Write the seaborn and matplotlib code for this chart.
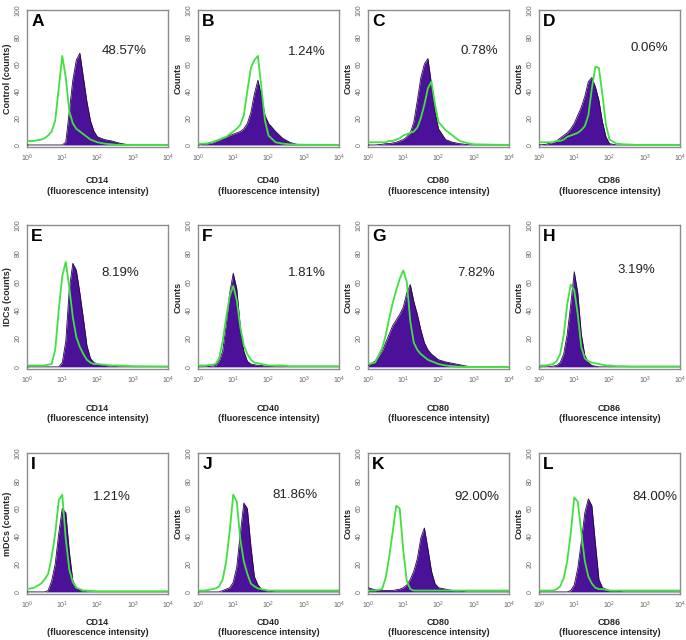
import numpy as np
import pandas as pd
import matplotlib
matplotlib.use('Agg')
import matplotlib.pyplot as plt
import seaborn as sns


# ===================================
# Data
# ===================================
# log10 of fluorescence intensity where the histograms were sampled
LOG_X = [0.0, 0.2, 0.4, 0.5, 0.6, 0.7, 0.8, 0.9, 1.0, 1.1, 1.2, 1.3, 1.4,
         1.5, 1.6, 1.7, 1.8, 1.9, 2.0, 2.2, 2.4, 2.6, 2.8, 3.0, 4.0]

LETTERS  = ['A', 'B', 'C', 'D', 'E', 'F', 'G', 'H', 'I', 'J', 'K', 'L']
MARKERS  = ['CD14', 'CD40', 'CD80', 'CD86'] * 3
PERCENTS = ['48.57%', '1.24%', '0.78%', '0.06%',
            '8.19%', '1.81%', '7.82%', '3.19%',
            '1.21%', '81.86%', '92.00%', '84.00%']
ROW_LABELS = ['Control (counts)', 'IDCs (counts)', 'mDCs (counts)']

# green = isotype / unstained line, purple = stained filled histogram
GREEN_A  = [3, 3, 4, 5, 7, 10, 18, 42, 66, 50, 25, 16, 12, 10, 8, 6, 4, 3, 2, 1, 0.5, 0, 0, 0, 0]
PURPLE_A = [0, 0, 0, 0, 0, 0, 0, 0, 0, 2, 25, 48, 63, 68, 50, 32, 18, 10, 6, 4, 3, 1.5, 0.5, 0, 0]
GREEN_B  = [1, 1, 2, 3, 4, 5, 6, 8, 10, 12, 15, 22, 40, 57, 63, 66, 42, 18, 7, 2, 1, 0.5, 0.3, 0.2, 0]
PURPLE_B = [0, 0.5, 1.5, 2.5, 3.5, 5, 6, 7, 8, 9, 10, 12, 16, 24, 38, 48, 36, 22, 16, 10, 5, 2, 0.5, 0, 0]
GREEN_C  = [2, 2, 2, 2, 3, 3, 4, 5, 7, 8, 9, 10, 13, 20, 30, 42, 47, 30, 17, 11, 7, 3, 1.5, 0.5, 0]
PURPLE_C = [0, 0, 0.5, 1, 1, 1.5, 2, 3, 4, 6, 9, 17, 33, 50, 60, 64, 45, 25, 12, 4, 2, 1, 0.3, 0, 0]
GREEN_D  = [2, 2, 2, 3, 3, 4, 6, 7, 8, 9, 11, 14, 22, 42, 58, 57, 37, 15, 4, 1, 0.5, 0.3, 0, 0, 0]
PURPLE_D = [0, 0.5, 2, 3, 5, 7, 9, 12, 16, 22, 28, 36, 47, 50, 43, 33, 17, 6, 1, 0, 0, 0, 0, 0, 0]

GREEN_E  = [1, 1, 1, 1, 1.5, 2, 12, 40, 64, 74, 56, 35, 21, 14, 9, 5, 3, 2, 2, 1.5, 1, 1, 0.8, 0.5, 0.3]
PURPLE_E = [0, 0, 0, 0, 0, 0, 0, 0, 3, 18, 55, 73, 68, 52, 34, 15, 6, 3, 2, 1, 0.5, 0, 0, 0, 0]
GREEN_F  = [1, 1, 1.5, 2, 6, 18, 35, 50, 57, 47, 28, 15, 9, 5, 3, 2.5, 2, 1.5, 1, 1, 1, 0.5, 0.5, 0.5, 0.5]
PURPLE_F = [0, 0, 0.5, 1, 4, 11, 30, 52, 66, 55, 28, 11, 4, 2, 1.5, 1, 1, 0.5, 0.3, 0, 0, 0, 0, 0, 0]
GREEN_G  = [2, 3, 13, 22, 34, 45, 54, 62, 68, 60, 32, 17, 12, 9, 7, 5, 4, 3, 2, 1, 0.5, 0, 0, 0, 0]
PURPLE_G = [1, 4, 11, 17, 23, 29, 33, 37, 42, 52, 58, 46, 37, 26, 17, 12, 9, 7, 5, 3.5, 2.5, 1.5, 0.5, 0, 0]
GREEN_H  = [1, 1, 2, 4, 9, 22, 44, 58, 54, 37, 14, 6, 4, 3, 2.5, 2, 1.5, 1, 1, 0.5, 0.5, 0.3, 0.3, 0.3, 0.3]
PURPLE_H = [0, 0, 0.5, 1, 3, 9, 23, 44, 67, 52, 23, 8, 3, 1, 0.5, 0, 0, 0, 0, 0, 0, 0, 0, 0, 0]

GREEN_I  = [2, 3, 6, 9, 13, 25, 42, 66, 70, 38, 16, 7, 3, 2, 1, 1, 0.8, 0.6, 0.5, 0.5, 0.5, 0.5, 0.5, 0.5, 0.5]
PURPLE_I = [0, 0, 0, 0, 1, 8, 20, 42, 60, 57, 29, 8, 3, 1, 0.5, 0, 0, 0, 0, 0, 0, 0, 0, 0, 0]
GREEN_J  = [1, 1, 2, 2.5, 4, 9, 22, 44, 70, 65, 38, 22, 13, 6, 4, 2.5, 2, 1.5, 1, 1, 1, 1, 1, 1, 1]
PURPLE_J = [0, 0, 0, 0, 0, 1, 2, 3, 7, 18, 42, 64, 60, 33, 11, 5, 2, 1, 0.5, 0, 0, 0, 0, 0, 0]
GREEN_K  = [1, 1, 2, 10, 25, 43, 62, 60, 30, 8, 2, 1, 1, 1, 1, 1, 1, 1, 1, 1, 1, 1, 1, 1, 1]
PURPLE_K = [3, 1.5, 1, 1, 1, 1, 1.5, 2, 3, 5, 9, 15, 24, 39, 46, 31, 15, 6, 3, 2, 1, 0.5, 0, 0, 0]
GREEN_L  = [1, 1, 1, 2, 4, 10, 22, 42, 68, 65, 43, 22, 11, 6, 3, 2, 2, 1.5, 1, 1, 1, 1, 1, 1, 1]
PURPLE_L = [0, 0, 0, 0, 0, 0, 0, 1, 5, 17, 36, 57, 67, 62, 35, 9, 3, 2, 1, 0.5, 0, 0, 0, 0, 0]

GREENS  = [GREEN_A, GREEN_B, GREEN_C, GREEN_D, GREEN_E, GREEN_F,
           GREEN_G, GREEN_H, GREEN_I, GREEN_J, GREEN_K, GREEN_L]
PURPLES = [PURPLE_A, PURPLE_B, PURPLE_C, PURPLE_D, PURPLE_E, PURPLE_F,
           PURPLE_G, PURPLE_H, PURPLE_I, PURPLE_J, PURPLE_K, PURPLE_L]


# ===================================
# Layout (pixels of the 686x640 canvas)
# ===================================
FIG_W, FIG_H = 686, 640
COL_LEFT   = [27, 198, 368, 539]
AX_W       = 141
ROW_TOP    = [10, 225, 453]
ROW_BOTTOM = [147, 369, 594]
XLABEL_PAD = [21, 25, 17]          # points below axes

# percentage label position (axes fraction)
PCT_POS = [(0.69, 0.70), (0.77, 0.69), (0.79, 0.70), (0.78, 0.72),
           (0.66, 0.67), (0.77, 0.67), (0.77, 0.67), (0.69, 0.69),
           (0.60, 0.69), (0.69, 0.70), (0.77, 0.69), (0.82, 0.69)]

PURPLE = '#4b1199'
EDGE   = '#24083f'
GREEN  = '#3fe03f'
GRAY   = '#8c8c8c'

sns.set_theme(style='white')
plt.rcParams['font.family'] = ['Liberation Sans', 'DejaVu Sans']
plt.rcParams['mathtext.fontset'] = 'custom'
plt.rcParams['mathtext.rm'] = 'Liberation Sans'

fig = plt.figure(figsize=(FIG_W / 100, FIG_H / 100), dpi=100)
x_vals = 10 ** np.array(LOG_X)

for i in range(12):
    row, col = divmod(i, 4)
    left   = COL_LEFT[col] / FIG_W
    bottom = 1 - ROW_BOTTOM[row] / FIG_H
    height = (ROW_BOTTOM[row] - ROW_TOP[row]) / FIG_H
    ax = fig.add_axes([left, bottom, AX_W / FIG_W, height])

    df = pd.DataFrame({'x': x_vals, 'green': GREENS[i], 'purple': PURPLES[i]})

    ax.fill_between(df['x'], df['purple'], color=PURPLE, linewidth=0, zorder=2)
    sns.lineplot(data=df, x='x', y='purple', ax=ax, color=EDGE,
                 linewidth=0.6, zorder=3)
    sns.lineplot(data=df, x='x', y='green', ax=ax, color=GREEN,
                 linewidth=1.3, zorder=4)

    ax.set_xscale('log')
    ax.set_xlim(1, 1e4)
    ax.set_ylim(-1.5, 100)
    ax.set_xticks([1, 10, 100, 1000, 10000])
    ax.set_xticklabels([r'$10^{%d}$' % k for k in range(5)])
    ax.minorticks_off()
    ax.set_yticks([0, 20, 40, 60, 80, 100])
    ax.tick_params(axis='both', labelsize=5, colors=GRAY, length=2,
                   width=0.6, pad=2, labelcolor='#666666')
    ax.tick_params(axis='y', labelrotation=90)
    for lab in ax.get_yticklabels():
        lab.set_va('center')

    for sp in ax.spines.values():
        sp.set_color(GRAY)
        sp.set_linewidth(1.0)

    ylab = ROW_LABELS[row] if col == 0 else 'Counts'
    ax.set_ylabel(ylab, fontsize=6.5, fontweight='bold', labelpad=2)
    ax.set_xlabel('')
    ax.annotate(f'{MARKERS[i]}\n(fluorescence intensity)',
                xy=(0.5, 0), xycoords='axes fraction',
                xytext=(0, -XLABEL_PAD[row]), textcoords='offset points',
                ha='center', va='top', fontsize=6.5, fontweight='bold',
                linespacing=1.25)

    ax.text(0.03, 0.97, LETTERS[i], transform=ax.transAxes, ha='left',
            va='top', fontsize=12.5, fontweight='bold', color='black')
    px, py = PCT_POS[i]
    ax.text(px, py, PERCENTS[i], transform=ax.transAxes, ha='center',
            va='center', fontsize=9.5, color='#222222')

plt.savefig('out.png', dpi=100)
plt.close()
